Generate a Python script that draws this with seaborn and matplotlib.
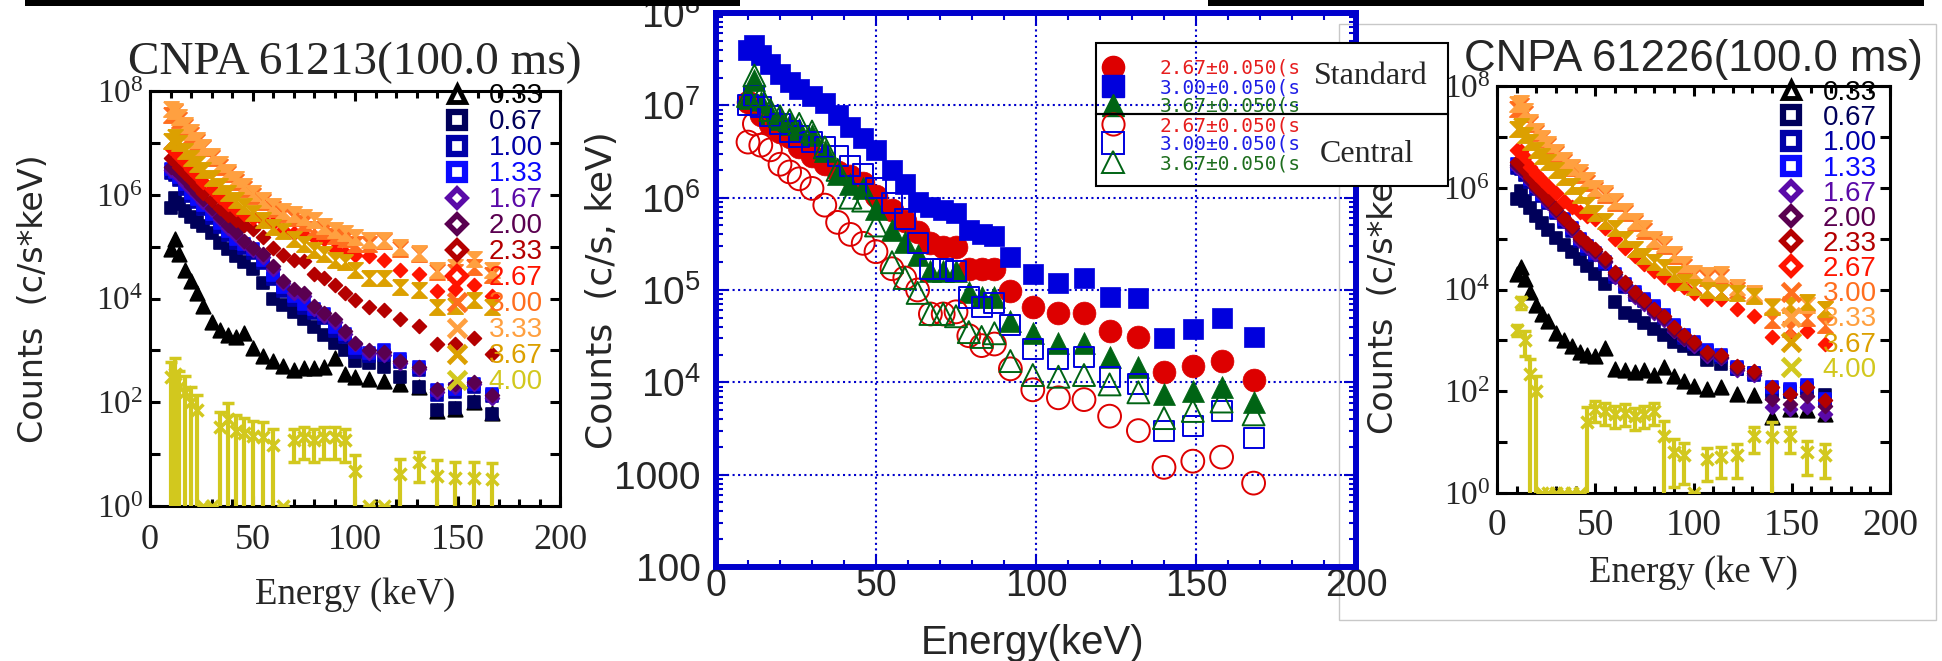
import matplotlib
matplotlib.use("Agg")
import matplotlib.pyplot as plt
import seaborn as sns
import numpy as np
from matplotlib.lines import Line2D
from matplotlib.patches import Rectangle
from matplotlib.ticker import FixedLocator, MultipleLocator, NullLocator, LogLocator, FuncFormatter

# ---------------- data ----------------
# energy channels (keV) of the two CNPA panels
energy_cnpa = [10, 12, 14, 17, 20, 23, 26, 30, 34, 38, 42, 46, 50, 55, 60, 65,
               70, 75, 80, 85, 90, 95, 100, 107, 114, 122, 131, 140, 149, 158, 167]
# energy channels (keV) of the middle comparison panel
energy_mid = [10, 12, 14, 17, 20, 23, 26, 30, 34, 38, 42, 46, 50, 55, 59, 63,
              67, 71, 75, 79, 83, 87, 92, 99, 107, 115, 123, 132, 140, 149, 158, 168]

time_labels = ["0.33", "0.67", "1.00", "1.33", "1.67", "2.00",
               "2.33", "2.67", "3.00", "3.33", "3.67", "4.00"]

# shot 61213 (c/s*keV)
s61213_033 = [8.9e4, 1.4e5, 7.1e4, 3.5e4, 2.2e4, 1.3e4, 7.1e3, 3.5e3, 2.5e3, 2.0e3, 1.8e3, 2.2e3, 1.1e3, 790, 630, 500,
              420, 450, 460, 480, 710, 350, 300, 280, 260, 220, 195, 69, 74, 100, 63]
s61213_067 = [5.6e5, 8.5e5, 6.6e5, 4.8e5, 3.8e5, 3.0e5, 2.5e5, 1.8e5, 1.2e5, 8.9e4, 6.6e4, 5.0e4, 3.7e4, 2.0e4, 1.0e4, 7.6e3,
              5.6e3, 4.0e3, 2.8e3, 2.0e3, 1.4e3, 1.0e3, 630, 560, 480, 300, 200, 71, 76, 100, 60]
s61213_100 = [2.6e6, 2.4e6, 1.9e6, 1.3e6, 9.5e5, 7.1e5, 5.2e5, 3.5e5, 2.4e5, 1.7e5, 1.2e5, 9.5e4, 7.6e4, 4.8e4, 2.4e4, 1.4e4,
              9.5e3, 6.6e3, 5.2e3, 4.2e3, 2.4e3, 1.8e3, 950, 790, 830, 600, 420, 140, 160, 200, 130]
s61213_133 = [3.2e6, 2.8e6, 2.2e6, 1.6e6, 1.1e6, 8.3e5, 6.3e5, 4.2e5, 2.8e5, 2.0e5, 1.4e5, 1.1e5, 8.9e4, 5.6e4, 2.8e4, 1.7e4,
              1.1e4, 7.9e3, 6.3e3, 5.0e3, 2.8e3, 2.1e3, 1.1e3, 890, 1.0e3, 690, 480, 170, 180, 220, 145]
s61213_167 = [3.0e6, 2.8e6, 2.3e6, 1.7e6, 1.3e6, 1.0e6, 7.4e5, 5.0e5, 3.4e5, 2.3e5, 1.7e5, 1.2e5, 8.5e4, 6.3e4, 3.7e4, 2.0e4,
              1.3e4, 1.1e4, 6.3e3, 4.6e3, 3.5e3, 2.1e3, 1.3e3, 890, 830, 580, 440, 160, 200, 220, 120]
s61213_200 = [3.5e6, 3.2e6, 2.6e6, 2.0e6, 1.5e6, 1.1e6, 8.3e5, 5.6e5, 3.8e5, 2.6e5, 1.9e5, 1.3e5, 9.5e4, 7.1e4, 4.2e4, 2.2e4,
              1.5e4, 1.3e4, 7.1e3, 5.2e3, 4.0e3, 2.4e3, 1.4e3, 1.0e3, 930, 630, 480, 180, 220, 245, 135]
s61213_233 = [5.0e6, 4.5e6, 3.5e6, 2.6e6, 2.0e6, 1.5e6, 1.1e6, 7.9e5, 5.6e5, 4.0e5, 3.2e5, 2.6e5, 2.2e5, 1.5e5, 9.3e4, 6.9e4,
              5.5e4, 5.2e4, 3.0e4, 2.5e4, 1.8e4, 1.3e4, 9.3e3, 6.9e3, 5.9e3, 4.1e3, 3.0e3, 1.3e3, 1.35e3, 1.7e3, 870]
s61213_267 = [7.9e6, 7.1e6, 5.6e6, 4.2e6, 3.2e6, 2.4e6, 1.8e6, 1.3e6, 8.9e5, 6.6e5, 5.2e5, 4.2e5, 3.5e5, 3.2e5, 2.8e5, 2.1e5,
              1.8e5, 1.7e5, 1.5e5, 1.4e5, 8.9e4, 7.4e4, 6.9e4, 6.5e4, 5.5e4, 3.5e4, 3.0e4, 1.4e4, 1.5e4, 1.8e4, 1.1e4]
s61213_300 = [3.5e7, 4.0e7, 2.8e7, 2.0e7, 1.4e7, 1.05e7, 7.9e6, 5.2e6, 3.5e6, 2.5e6, 1.8e6, 1.3e6, 9.5e5, 7.1e5, 5.2e5, 4.2e5,
              3.5e5, 2.8e5, 2.2e5, 2.0e5, 1.6e5, 1.4e5, 1.1e5, 1.1e5, 1.3e5, 8.9e4, 7.1e4, 3.3e4, 3.2e4, 4.0e4, 2.8e4]
s61213_333 = [4.5e7, 4.2e7, 3.2e7, 2.2e7, 1.6e7, 1.15e7, 8.3e6, 5.6e6, 4.0e6, 2.8e6, 2.0e6, 1.45e6, 1.07e6, 7.9e5, 6.0e5, 4.8e5,
              4.2e5, 3.8e5, 3.2e5, 2.5e5, 2.1e5, 1.8e5, 1.55e5, 1.35e5, 1.35e5, 1.0e5, 7.4e4, 3.5e4, 4.1e4, 5.9e4, 3.5e4]
s61213_367 = [1.1e7, 1.3e7, 1.0e7, 7.1e6, 5.2e6, 4.0e6, 3.0e6, 2.1e6, 1.5e6, 1.1e6, 7.9e5, 6.0e5, 4.5e5, 3.2e5, 2.4e5, 2.0e5,
              1.4e5, 1.1e5, 8.7e4, 7.1e4, 5.6e4, 5.0e4, 3.5e4, 2.5e4, 2.5e4, 1.7e4, 1.45e4, 6.9e3, 7.1e3, 9.3e3, 6.9e3]
s61213_400 = [300, 355, 200, 160, 100, 70, 0, 0, 33, 48, 28, 25, 22, 21, 15, 0,
              19, 21, 19, 21, 21, 19, 4.8, 0, 0, 4.1, 6.9, 3.8, 3.5, 3.5, 3.3]
s61213_400_err = [300, 355, 200, 160, 100, 70, 0, 0, 33, 48, 28, 25, 22, 21, 15, 0,
                  12, 13, 12, 13, 13, 12, 4.8, 0, 0, 4.1, 4.0, 3.8, 3.5, 3.5, 3.3]

# shot 61226 (c/s*keV)
s61226_033 = [2.0e4, 2.8e4, 1.6e4, 8.9e3, 5.0e3, 3.3e3, 2.4e3, 1.4e3, 1.0e3, 760, 600, 520, 500, 710, 280, 260,
              240, 260, 210, 300, 200, 160, 126, 112, 120, 89, 83, 31, 45, 42, 36]
s61226_067 = [5.9e5, 8.5e5, 5.6e5, 4.0e5, 2.8e5, 2.0e5, 1.5e5, 1.05e5, 7.6e4, 5.4e4, 4.0e4, 2.9e4, 2.0e4, 1.26e4, 5.6e3, 3.5e3,
              3.0e3, 2.2e3, 1.7e3, 1.3e3, 950, 760, 680, 420, 350, 280, 230, 89, 95, 112, 83]
s61226_100 = [2.5e6, 2.3e6, 1.8e6, 1.3e6, 9.5e5, 6.8e5, 5.0e5, 3.2e5, 2.1e5, 1.4e5, 8.9e4, 6.3e4, 4.8e4, 3.2e4, 1.8e4, 1.1e4,
              7.9e3, 6.0e3, 4.3e3, 2.8e3, 1.8e3, 1.1e3, 830, 600, 480, 280, 210, 107, 100, 117, 63]
s61226_133 = [2.9e6, 2.6e6, 2.1e6, 1.5e6, 1.07e6, 7.6e5, 5.6e5, 3.5e5, 2.4e5, 1.6e5, 1.0e5, 7.1e4, 5.2e4, 3.5e4, 2.0e4, 1.26e4,
              8.9e3, 6.6e3, 4.8e3, 3.2e3, 2.0e3, 1.26e3, 910, 660, 520, 300, 230, 120, 112, 130, 71]
s61226_167 = [2.6e6, 2.3e6, 1.9e6, 1.35e6, 9.3e5, 7.1e5, 5.0e5, 3.3e5, 2.2e5, 1.45e5, 9.1e4, 6.9e4, 5.1e4, 3.4e4, 1.8e4, 1.15e4,
              7.2e3, 5.2e3, 3.4e3, 2.5e3, 1.5e3, 1.05e3, 790, 500, 450, 260, 210, 49, 45, 50, 36]
s61226_200 = [2.8e6, 2.5e6, 2.0e6, 1.45e6, 1.0e6, 7.6e5, 5.5e5, 3.6e5, 2.4e5, 1.6e5, 1.0e5, 7.6e4, 5.6e4, 3.7e4, 2.0e4, 1.26e4,
              7.9e3, 5.8e3, 3.7e3, 2.7e3, 1.6e3, 1.1e3, 850, 550, 480, 290, 230, 71, 56, 79, 52]
s61226_233 = [3.2e6, 2.8e6, 2.2e6, 1.6e6, 1.1e6, 8.3e5, 6.0e5, 4.0e5, 2.6e5, 1.8e5, 1.1e5, 8.3e4, 6.3e4, 4.2e4, 2.2e4, 1.4e4,
              8.9e3, 6.3e3, 4.2e3, 3.0e3, 1.8e3, 1.26e3, 950, 600, 520, 320, 250, 120, 89, 120, 66]
s61226_267 = [5.6e6, 5.2e6, 4.0e6, 2.6e6, 1.9e6, 1.45e6, 1.1e6, 7.9e5, 5.6e5, 4.2e5, 3.3e5, 2.8e5, 2.4e5, 1.6e5, 1.0e5, 6.6e4,
              4.5e4, 3.2e4, 2.3e4, 1.8e4, 1.3e4, 1.1e4, 8.7e3, 6.5e3, 6.5e3, 4.1e3, 3.0e3, 1.15e3, 1.26e3, 1.55e3, 850]
s61226_300 = [3.5e7, 4.0e7, 2.8e7, 1.8e7, 1.2e7, 8.9e6, 6.6e6, 4.6e6, 3.2e6, 2.4e6, 1.8e6, 1.26e6, 8.9e5, 7.1e5, 5.0e5, 3.2e5,
              2.0e5, 1.4e5, 8.9e4, 7.1e4, 4.5e4, 2.8e4, 1.9e4, 1.7e4, 1.8e4, 1.0e4, 7.9e3, 2.5e3, 1.7e3, 2.8e3, 2.0e3]
s61226_333 = [4.5e7, 4.7e7, 3.2e7, 2.0e7, 1.3e7, 9.5e6, 7.1e6, 5.0e6, 3.5e6, 2.6e6, 2.0e6, 1.4e6, 1.0e6, 7.9e5, 5.6e5, 3.5e5,
              2.2e5, 1.6e5, 1.0e5, 7.9e4, 5.0e4, 3.2e4, 2.1e4, 1.9e4, 2.0e4, 1.1e4, 8.7e3, 4.8e3, 5.2e3, 5.0e3, 4.1e3]
s61226_367 = [1.4e7, 1.6e7, 1.1e7, 7.9e6, 5.6e6, 4.2e6, 3.2e6, 2.2e6, 1.6e6, 1.1e6, 7.1e5, 4.5e5, 3.2e5, 2.2e5, 1.6e5, 1.0e5,
              6.3e4, 4.5e4, 3.5e4, 2.8e4, 2.0e4, 1.4e4, 1.1e4, 1.0e4, 8.9e3, 8.7e3, 7.6e3, 4.5e3, 5.0e3, 5.6e3, 4.1e3]
s61226_400 = [1600, 5600, 1000, 220, 100, 0, 0, 0, 0, 0, 0, 25, 45, 40, 35, 38,
              32, 35, 40, 13, 6.3, 5.5, 0, 4.7, 5, 5.5, 13, 12.6, 13, 6.3, 5.5]
s61226_400_err = [400, 1500, 500, 220, 100, 0, 0, 0, 0, 0, 0, 25, 20, 18, 16, 17,
                  15, 16, 18, 13, 5, 4, 0, 3, 3, 3.5, 7, 12.6, 7, 4, 3.5]

# middle panel: standard vs central chords (c/s, keV)
std_267 = [1.1e7, 1.0e7, 7.9e6, 6.3e6, 5.2e6, 4.5e6, 3.5e6, 2.8e6, 2.3e6, 1.9e6, 1.7e6, 1.45e6, 1.05e6, 7.4e5, 5.6e5, 4.3e5,
           3.2e5, 2.9e5, 2.9e5, 1.7e5, 1.7e5, 1.7e5, 9.8e4, 6.6e4, 5.6e4, 5.6e4, 3.6e4, 3.1e4, 1.3e4, 1.5e4, 1.7e4, 1.05e4]
std_300 = [4.0e7, 4.5e7, 3.5e7, 2.8e7, 2.2e7, 1.8e7, 1.5e7, 1.26e7, 1.05e7, 7.9e6, 5.8e6, 4.4e6, 3.3e6, 2.0e6, 1.4e6, 8.9e5,
           7.9e5, 7.4e5, 6.8e5, 4.5e5, 4.0e5, 3.8e5, 2.3e5, 1.5e5, 1.2e5, 1.35e5, 8.5e4, 8.1e4, 3.0e4, 3.8e4, 5.0e4, 3.1e4]
std_367 = [1.2e7, 1.9e7, 1.1e7, 8.3e6, 7.1e6, 6.3e6, 5.6e6, 4.8e6, 3.2e6, 1.8e6, 1.4e6, 1.26e6, 7.6e5, 4.5e5, 3.3e5, 2.4e5,
           1.6e5, 1.6e5, 1.6e5, 9.5e4, 8.5e4, 8.5e4, 4.6e4, 3.4e4, 2.7e4, 2.7e4, 1.9e4, 1.45e4, 7.4e3, 8.1e3, 8.9e3, 6.2e3]
cen_267 = [4.0e6, 6.3e6, 3.7e6, 3.3e6, 2.3e6, 1.9e6, 1.6e6, 1.26e6, 8.3e5, 5.4e5, 4.0e5, 3.2e5, 2.6e5, 1.7e5, 1.35e5, 1.0e5,
           5.5e4, 5.5e4, 5.8e4, 3.2e4, 2.5e4, 2.6e4, 1.4e4, 8.3e3, 6.8e3, 6.5e3, 4.3e3, 3.0e3, 1.2e3, 1.4e3, 1.55e3, 810]
cen_300 = [1.0e7, 1.26e7, 9.5e6, 7.6e6, 6.3e6, 5.2e6, 4.6e6, 4.0e6, 3.5e6, 2.8e6, 2.2e6, 1.8e6, 1.26e6, 8.7e5, 5.9e5, 3.2e5,
           1.7e5, 1.7e5, 1.6e5, 8.3e4, 6.6e4, 7.2e4, 4.2e4, 2.3e4, 1.8e4, 1.9e4, 1.15e4, 9.5e3, 3.0e3, 3.4e3, 4.9e3, 2.5e3]
cen_367 = [1.26e7, 2.1e7, 1.26e7, 8.9e6, 7.6e6, 6.9e6, 6.3e6, 5.2e6, 3.5e6, 2.0e6, 1.0e6, 9.3e5, 5.0e5, 2.0e5, 1.35e5, 9.3e4,
           5.5e4, 5.5e4, 5.2e4, 3.5e4, 3.1e4, 3.4e4, 1.7e4, 1.2e4, 1.15e4, 1.2e4, 9.5e3, 7.8e3, 4.1e3, 4.9e3, 6.2e3, 4.5e3]
mid_labels = ["2.67\u00b10.050(s)", "3.00\u00b10.050(s)", "3.67\u00b10.050(s)",
              "2.67\u00b10.050(s)", "3.00\u00b10.050(s)", "3.67\u00b10.050(s)"]

# ---------------- styles ----------------
SERIF, SANS, DV, MONO = "Liberation Serif", "Liberation Sans", "DejaVu Sans", "DejaVu Sans Mono"
time_colors = ["#000000", "#00005a", "#0000a8", "#0a0aff", "#5a0aa8", "#5a0050",
               "#b40000", "#ff1400", "#ff6e1e", "#ffa040", "#dca000", "#d2c81e"]
time_kinds = ["tri", "sq", "sq", "sq", "dia", "dia", "dia", "dia", "hg", "hg", "hg", "x"]
HOURGLASS = [(-1, 1), (1, 1), (-1, -1), (1, -1), (-1, 1)]
MARKS = {"tri": ("^", 110), "sq": ("s", 80), "dia": ("D", 50), "hg": (HOURGLASS, 120)}
BLUE = "#0000cc"
mid_colors = ["#dd0000", "#0000dd", "#006414"]

sns.set_style("ticks")
plt.rcParams["font.family"] = [SANS, "DejaVu Sans"]
plt.rcParams["axes.linewidth"] = 2.2

W, H = 1942, 661
fig = plt.figure(figsize=(W / 100, H / 100), dpi=100)


def px_rect(x0, y0, x1, y1):
    return [x0 / W, 1 - y1 / H, (x1 - x0) / W, (y1 - y0) / H]


def legend_handle(kind, col):
    if kind == "tri":
        return Line2D([], [], ls="none", marker="^", ms=12, mfc="white", mec=col, mew=3.5)
    if kind == "sq":
        return Line2D([], [], ls="none", marker="s", ms=12, mfc="white", mec=col, mew=4.5)
    if kind == "dia":
        return Line2D([], [], ls="none", marker="D", ms=9.5, mfc="white", mec=col, mew=4)
    return Line2D([], [], ls="none", marker="x", ms=13, mec=col, mew=3.5)


def even_power(v, pos):
    k = int(round(np.log10(v)))
    return r"$\mathregular{10^{%d}}$" % k if k % 2 == 0 else ""


def cnpa_panel(ax, spectra, yellow, yellow_err, title, title_family, title_size, xlabel,
               ylab_x, xlab_y, title_y, xpad):
    for col, kind, vals in zip(time_colors[:-1], time_kinds[:-1], spectra):
        mk, sz = MARKS[kind]
        sns.scatterplot(x=energy_cnpa, y=vals, ax=ax, marker=mk, s=sz, color=col,
                        edgecolor=col, linewidth=1.2, legend=False, zorder=3)
    yv = np.maximum(np.array(yellow, dtype=float), 1.0)
    ax.errorbar(energy_cnpa, yv, yerr=yellow_err, fmt="x", color=time_colors[-1], ms=9, mew=2.5,
                elinewidth=3, capsize=4, capthick=2.5, zorder=4)
    ax.set_yscale("log")
    ax.set_xlim(0, 200)
    ax.set_ylim(1, 1e8)
    ax.xaxis.set_major_locator(MultipleLocator(50))
    ax.xaxis.set_minor_locator(MultipleLocator(10))
    ax.yaxis.set_major_locator(FixedLocator([10.0 ** k for k in range(9)]))
    ax.yaxis.set_minor_locator(NullLocator())
    ax.yaxis.set_major_formatter(FuncFormatter(even_power))
    ax.tick_params(which="both", direction="in", top=True, right=True, width=2.2, color="black")
    ax.tick_params(which="major", length=7)
    ax.tick_params(which="minor", length=5)
    ax.tick_params(axis="x", labelsize=26, labelfontfamily=SERIF, pad=xpad)
    ax.tick_params(axis="y", labelsize=24, labelfontfamily=SERIF, pad=5)
    for sp in ax.spines.values():
        sp.set_color("black")
        sp.set_linewidth(2.2)
    ax.set_title(title, fontfamily=title_family, fontsize=title_size, y=title_y, va="center", pad=0)
    ax.set_ylabel("Counts  (c/s*keV)", fontfamily=DV, fontsize=24)
    ax.yaxis.label.set_va("center")
    ax.yaxis.set_label_coords(ylab_x, 0.5)
    ax.set_xlabel(xlabel, fontfamily=SERIF, fontsize=26.5)
    ax.xaxis.label.set_va("center")
    ax.xaxis.set_label_coords(0.5, xlab_y)
    handles = [legend_handle(k, c) for k, c in zip(time_kinds, time_colors)]
    return handles


# ---------------- left panel: 61213 ----------------
ax_l = fig.add_axes(px_rect(150, 91, 560, 506))
spec_61213 = [s61213_033, s61213_067, s61213_100, s61213_133, s61213_167, s61213_200,
              s61213_233, s61213_267, s61213_300, s61213_333, s61213_367]
hl = cnpa_panel(ax_l, spec_61213, s61213_400, s61213_400_err, "CNPA 61213(100.0 ms)", SERIF, 34,
                "Energy (keV)", -0.285, -0.2145, 1 + 28 / 415, 13)
ax_l.legend(hl, time_labels, loc="upper left", bbox_to_anchor=(0.7146, 1.0186), frameon=False,
            prop={"family": SANS, "size": 20}, labelcolor=time_colors, handlelength=1.0,
            handletextpad=0.65, labelspacing=0.0, borderpad=0, borderaxespad=0)

# ---------------- right panel: 61226 ----------------
ax_r = fig.add_axes(px_rect(1497, 86, 1890, 493))
spec_61226 = [s61226_033, s61226_067, s61226_100, s61226_133, s61226_167, s61226_200,
              s61226_233, s61226_267, s61226_300, s61226_333, s61226_367]
hr = cnpa_panel(ax_r, spec_61226, s61226_400, s61226_400_err, "CNPA 61226(100.0 ms)", SANS, 31.5,
                "Energy (ke V)", -0.29, -0.1966, 1 + 27 / 407, 11)
ax_r.tick_params(axis="x", labelsize=27)
ax_r.legend(hr, time_labels, loc="upper left", bbox_to_anchor=((1777 - 1497) / 393, 1 + (86 - 80) / 407),
            frameon=False, prop={"family": SANS, "size": 20}, labelcolor=time_colors, handlelength=1.0,
            handletextpad=0.65, labelspacing=-0.03, borderpad=0, borderaxespad=0)
fig.add_artist(Rectangle((1339 / W, 1 - 620 / H), (1936 - 1339) / W, (620 - 24) / H,
                         transform=fig.transFigure, fill=False, edgecolor="#c8c8c8", lw=1, zorder=1))

# ---------------- middle panel ----------------
ax_m = fig.add_axes(px_rect(716, 13, 1356, 567))
ax_m.set_zorder(2)
ax_m.set_facecolor("none")
mid_series = [std_267, std_300, std_367, cen_267, cen_300, cen_367]
mid_marks = [("o", 270), ("s", 210), ("^", 250)]
for i, vals in enumerate(mid_series):
    mk, sz = mid_marks[i % 3]
    col = mid_colors[i % 3]
    if i < 3:
        sns.scatterplot(x=energy_mid, y=vals, ax=ax_m, marker=mk, s=sz, color=col,
                        edgecolor=col, linewidth=0.5, legend=False, zorder=3)
    else:
        sns.scatterplot(x=energy_mid, y=vals, ax=ax_m, marker=mk, s=sz, color=col,
                        facecolors="none", edgecolor=col, linewidth=1.4, legend=False, zorder=4)
ax_m.set_yscale("log")
ax_m.set_xlim(0, 200)
ax_m.set_ylim(100, 1e8)
ax_m.xaxis.set_major_locator(MultipleLocator(50))
ax_m.xaxis.set_minor_locator(MultipleLocator(10))
ax_m.yaxis.set_major_locator(FixedLocator([10.0 ** k for k in range(2, 9)]))
ax_m.yaxis.set_minor_locator(LogLocator(base=10, subs=np.arange(2, 10), numticks=40))


def mid_fmt(v, pos):
    k = int(round(np.log10(v)))
    return r"$\mathregular{10^{%d}}$" % k if k >= 4 else "%d" % round(v)


ax_m.yaxis.set_major_formatter(FuncFormatter(mid_fmt))
ax_m.grid(True, which="major", color=BLUE, linestyle=":", linewidth=1.5)
ax_m.tick_params(which="both", direction="in", top=True, right=True, color=BLUE, width=1.5)
ax_m.tick_params(which="major", length=9)
ax_m.tick_params(which="minor", length=5)
ax_m.tick_params(axis="x", labelsize=27, labelfontfamily=SANS, pad=1)
ax_m.tick_params(axis="y", labelsize=28, labelfontfamily=SANS, pad=11)
for sp in ax_m.spines.values():
    sp.set_color(BLUE)
    sp.set_linewidth(4.3)
ax_m.set_ylabel("Counts  (c/s, keV)", fontfamily=DV, fontsize=26)
ax_m.yaxis.label.set_va("center")
ax_m.yaxis.set_label_coords(-0.178, 0.5)
ax_m.set_xlabel("Energy(keV)", fontfamily=SANS, fontsize=29)
ax_m.xaxis.label.set_va("center")
ax_m.xaxis.set_label_coords(0.494, -0.137)

# legend boxes of the middle panel
mid_handles = []
for i in range(6):
    mk = ["o", "s", "^"][i % 3]
    col = mid_colors[i % 3]
    if i < 3:
        mid_handles.append(Line2D([], [], ls="none", marker=mk, ms=16, mfc=col, mec=col))
    else:
        mid_handles.append(Line2D([], [], ls="none", marker=mk, ms=16, mfc="none", mec=col, mew=1.4))
fig.legend(mid_handles, mid_labels, loc="upper left", bbox_to_anchor=(1101 / W, 1 - 59 / H),
           frameon=False, prop={"family": MONO, "size": 14},
           labelcolor=["#e61e1e", "#1e1ee6", "#1e6e1e"] * 2, handlelength=1.2,
           handletextpad=1.82, labelspacing=0.0, borderpad=0, borderaxespad=0)
fig.add_artist(Rectangle((1300 / W, 1 - 185 / H), (1447 - 1300) / W, (185 - 44) / H,
                         transform=fig.transFigure, facecolor="white", edgecolor="none", zorder=6))
fig.text(1371 / W, 1 - 77 / H, "Standard", fontfamily=SERIF, fontsize=23, ha="center", va="center", zorder=7)
fig.text(1367 / W, 1 - 155 / H, "Central", fontfamily=SERIF, fontsize=23, ha="center", va="center", zorder=7)
for y0, y1 in [(43, 114), (114, 186)]:
    fig.add_artist(Rectangle((1096 / W, 1 - y1 / H), (1448 - 1096) / W, (y1 - y0) / H,
                             transform=fig.transFigure, fill=False, edgecolor="black", lw=1.5, zorder=8))

# black slide borders at the top
for x0, x1 in [(25, 740), (1208, 1924)]:
    fig.add_artist(Rectangle((x0 / W, 1 - 6 / H), (x1 - x0) / W, 6 / H, transform=fig.transFigure,
                             facecolor="black", edgecolor="none", zorder=9))

fig.savefig("out.png", dpi=100)
